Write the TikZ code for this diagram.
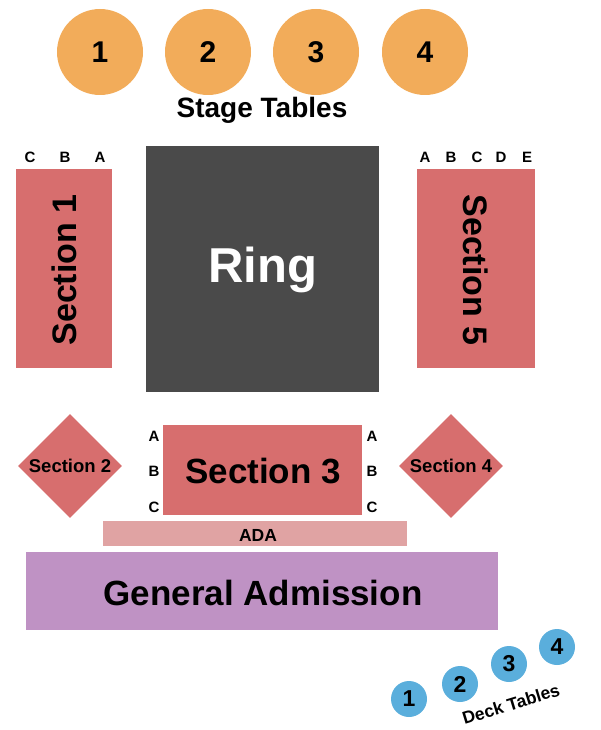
\documentclass[tikz,border=0pt]{standalone}
\usepackage{fontspec}
\setmainfont{Liberation Sans}
\usetikzlibrary{shapes.geometric}
\definecolor{orng}{HTML}{F2AC5A}
\definecolor{sec}{HTML}{D76E6E}
\definecolor{ring}{HTML}{4A4A4A}
\definecolor{ada}{HTML}{E0A3A3}
\definecolor{ga}{HTML}{BF92C4}
\definecolor{deck}{HTML}{5AAEDC}
\newcommand{\fs}[1]{\fontsize{#1}{#1}\selectfont\bfseries}
\begin{document}
\begin{tikzpicture}[x=1pt,y=-1pt,
  stage/.style={circle,fill=orng,minimum size=86pt,inner sep=0pt,font=\fs{30}},
  dk/.style={circle,fill=deck,minimum size=36pt,inner sep=0pt,font=\fs{23}},
  lab/.style={font=\fs{15}},
  dia/.style={diamond,fill=sec,minimum width=104pt,minimum height=104pt,inner sep=0pt,font=\fs{18.5}}]
\useasboundingbox (0,0) rectangle (600,730);
\node[stage] (s1) at (100,52) {1};
\node[stage] (s2) at (208,52) {2};
\node[stage] (s3) at (316,52) {3};
\node[stage] (s4) at (425,52) {4};
\node[font=\fs{28}] (st) at (262,110) {Stage Tables};
\fill[sec] (16,169) rectangle (112,368);
\node[rotate=90,font=\fs{34}] (sec1) at (64,270) {Section 1};
\fill[ring] (146,146) rectangle (379,392);
\node[text=white,font=\fs{49}] (ring) at (263,270) {Ring};
\fill[sec] (417,169) rectangle (535,368);
\node[rotate=-90,font=\fs{34}] (sec5) at (476,270) {Section 5};
\foreach \l/\x in {C/30,B/65,A/100} \node[lab] (r1\l) at (\x,157) {\l};
\foreach \l/\x in {A/425,B/451,C/477,D/501,E/527} \node[lab] (r5\l) at (\x,157) {\l};
\node[dia] (sec2) at (70,466) {Section 2};
\node[dia] (sec4) at (451,466) {Section 4};
\fill[sec] (163,425) rectangle (362,515);
\node[font=\fs{35}] (sec3) at (263,471) {Section 3};
\foreach \l/\y in {A/436,B/471,C/507} {\node[lab] (l\l) at (154,\y) {\l}; \node[lab] (r\l) at (372,\y) {\l};}
\fill[ada] (103,521) rectangle (407,546);
\node[font=\fs{17.5}] (ada) at (258,535) {ADA};
\fill[ga] (26,552) rectangle (498,630);
\node[font=\fs{35}] (ga) at (263,593) {General Admission};
\node[dk] (d1) at (409,699) {1};
\node[dk] (d2) at (460,684) {2};
\node[dk] (d3) at (509,664) {3};
\node[dk] (d4) at (557,647) {4};
\node[rotate=17,font=\fs{17.5},inner sep=0pt] (dt) at (511,704) {Deck Tables};
\end{tikzpicture}
\end{document}
